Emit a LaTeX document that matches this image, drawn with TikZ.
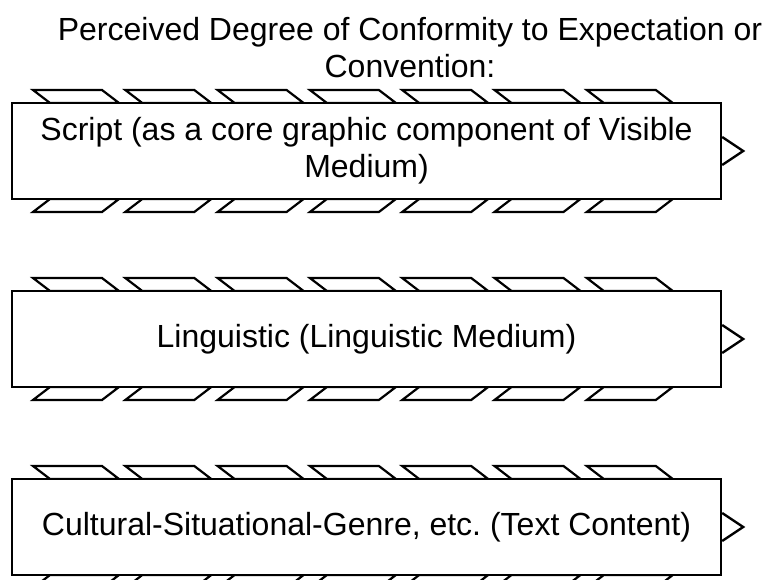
\documentclass[tikz,border=0pt]{standalone}
\usepackage{fontspec}
\setmainfont{Liberation Sans}
\frenchspacing
\begin{document}
\begin{tikzpicture}[x=1pt,y=-1pt,
  txt/.style={align=center, inner sep=0pt, font=\fontsize{32}{36.8}\selectfont},
  box/.style={txt, draw, line width=2.4pt, fill=white, minimum width=709pt, minimum height=96pt},
  tab/.style={draw, line width=2.2pt, fill=white, line join=miter},
  pointer/.style={draw, line width=2.4pt, line join=miter}]
\useasboundingbox (0,0) rectangle (764,580);
\clip (0,0) rectangle (764,580);
\node[txt, anchor=north] (title) at (410,17) {Perceived Degree of Conformity to Expectation or\\Convention:};
\foreach \yc in {151,339,527} {
  \foreach \k in {0,...,6} {
    \pgfmathsetmacro\xa{33+92.3*\k}
    \draw[tab] (\xa,\yc-61) -- ++(69,0) -- ++(17,13) -- ++(-69,0) -- cycle;
    \draw[tab] (\xa,\yc+61) -- ++(69,0) -- ++(17,-13) -- ++(-69,0) -- cycle;
  }
}
\node[box] (script) at (366.5,151) {Script (as a core graphic component of Visible\\Medium)};
\node[box] (ling) at (366.5,339) {Linguistic (Linguistic Medium)};
\node[box] (cult) at (366.5,527) {Cultural-Situational-Genre, etc. (Text Content)};
\foreach \b in {script,ling,cult} {
  \draw[pointer] (\b.east) ++(0,-14) -- ++(21,14) -- ++(-21,14);
}
\end{tikzpicture}
\end{document}
